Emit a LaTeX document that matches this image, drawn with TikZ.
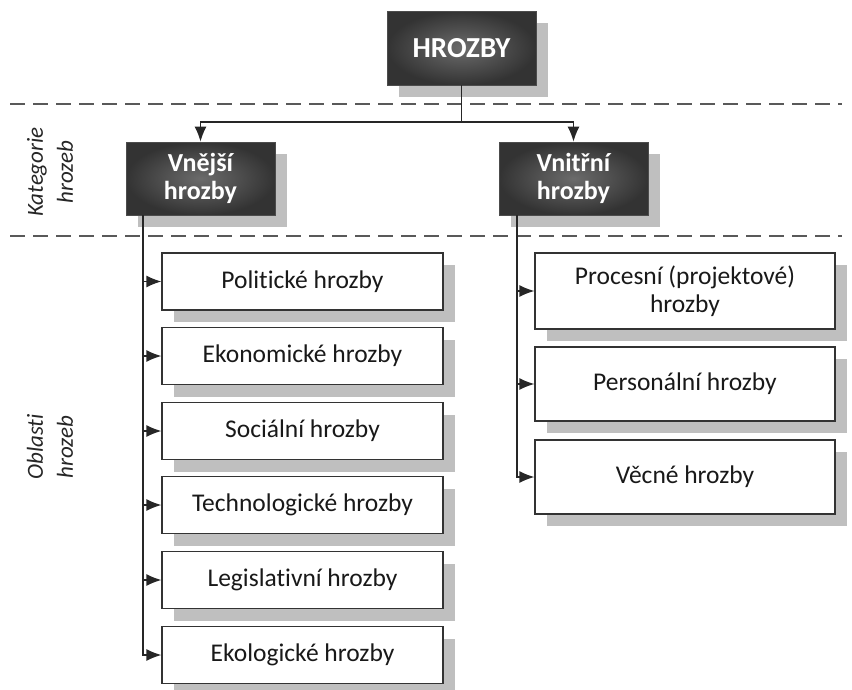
\documentclass[tikz,border=0pt]{standalone}
\usepackage{fontspec}
\setmainfont{Carlito}[Ligatures=NoCommon]
\usetikzlibrary{shadows,arrows.meta}
\tikzset{
  darkbox/.style={draw=black!70, line width=0.8pt, shade, inner color=black!58, outer color=black!80,
    text=white, font=\fontsize{26}{28}\selectfont\bfseries, align=center,
    general shadow={fill=black!25, shadow xshift=12pt, shadow yshift=-12pt}},
  itembox/.style={draw=black!80, line width=1.2pt, fill=white, text=black!90,
    font=\fontsize{25.5}{28}\selectfont, align=center,
    general shadow={fill=black!25, shadow xshift=12pt, shadow yshift=-12pt}},
  arr/.style={line width=1.3pt, black!85, -{Latex[length=15pt,width=12pt]}},
  conn/.style={line width=1.3pt, black!85},
  sep/.style={line width=1.5pt, black!65, dash pattern=on 15pt off 8pt},
  sidelabel/.style={font=\fontsize{23}{30}\selectfont\itshape, text=black!85, align=center, rotate=90}
}
\begin{document}
\begin{tikzpicture}[x=1pt,y=-1pt]
\useasboundingbox (0,0) rectangle (852,689);
% separators
\draw[sep] (10,104) -- (842,104);
\draw[sep] (10,236) -- (842,236);
% side labels
\node[sidelabel] (kat) at (50,172) {Kategorie\\hrozeb};
\node[sidelabel] (obl) at (50,447) {Oblasti\\hrozeb};
% boxes
\node[darkbox, minimum width=149pt, minimum height=74pt, font=\fontsize{29}{30}\selectfont\bfseries] (top) at (461.5,48) {HROZBY};
\node[darkbox, minimum width=149pt, minimum height=73pt] (vne) at (200.5,178.5) {Vnější\\hrozby};
\node[darkbox, minimum width=149pt, minimum height=73pt] (vni) at (573.5,178.5) {Vnitřní\\hrozby};
\foreach \n/\y/\t in {p1/281.5/Politické hrozby, p2/356/Ekonomické hrozby, p3/431/Sociální hrozby,
  p4/505/Technologické hrozby, p5/580/Legislativní hrozby, p6/655/Ekologické hrozby}{
  \node[itembox, minimum width=281pt, minimum height=57pt] (\n) at (302.5,\y) {\t};
}
\node[itembox, minimum width=300pt, minimum height=76pt] (r1) at (685,291) {Procesní (projektové)\\hrozby};
\node[itembox, minimum width=300pt, minimum height=74pt] (r2) at (685,384) {Personální hrozby};
\node[itembox, minimum width=300pt, minimum height=74pt] (r3) at (685,477) {Věcné hrozby};
% connectors
\coordinate (j) at (461.5,122);
\draw[conn] (top.south) -- (j);
\draw[arr] (j) -| (vne.north);
\draw[arr] (j) -| (vni.north);
\coordinate (lt) at (143,215);
\coordinate (rt) at (517,215);
\foreach \n in {p1,p2,p3,p4,p5,p6}{\draw[arr] (lt) |- (\n.west);}
\foreach \n in {r1,r2,r3}{\draw[arr] (rt) |- (\n.west);}
\end{tikzpicture}
\end{document}
